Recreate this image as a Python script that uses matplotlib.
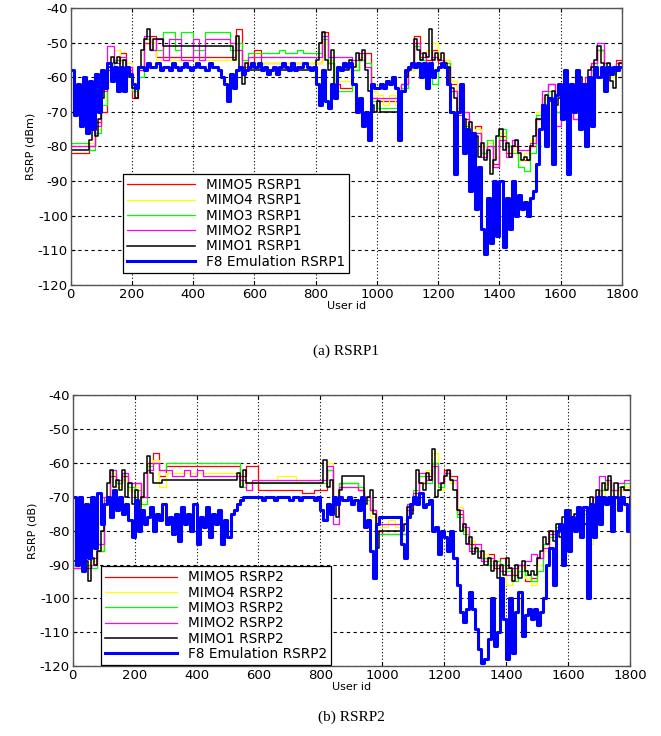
import numpy as np
import matplotlib
matplotlib.use("Agg")
import matplotlib.pyplot as plt

# ---- data (user id step 10 for F8 / MIMO1, step 20 for the others) ----
# (a) RSRP1
f8_rsrp1 = [
    -58, -71, -62, -74, -60, -76, -61, -75, -59, -70,
    -58, -63, -56, -61, -57, -64, -57, -64, -57, -59,
    -62, -63, -57, -57, -58, -56, -57, -57, -56, -58,
    -57, -57, -58, -56, -57, -58, -57, -56, -57, -58,
    -57, -56, -57, -57, -58, -56, -57, -57, -58, -60,
    -62, -67, -59, -63, -58, -57, -59, -58, -57, -56,
    -57, -56, -58, -57, -59, -58, -57, -59, -57, -56,
    -57, -58, -56, -58, -57, -57, -56, -57, -58, -57,
    -62, -68, -58, -67, -69, -62, -66, -57, -58, -56,
    -57, -56, -62, -70, -66, -74, -70, -78, -62, -63,
    -63, -62, -63, -61, -62, -60, -63, -78, -64, -58,
    -57, -56, -57, -56, -60, -56, -63, -56, -60, -58,
    -57, -56, -57, -62, -70, -88, -70, -62, -82, -75,
    -93, -76, -98, -86, -104, -111, -95, -108, -90, -106,
    -90, -109, -95, -104, -90, -100, -94, -98, -96, -100,
    -95, -93, -85, -75, -68, -80, -66, -85, -65, -62,
    -72, -58, -88, -62, -70, -58, -75, -62, -80, -60,
    -74, -57, -60, -57, -64, -57, -59, -57, -58, -57,
    -57,
]
mimo1_rsrp1 = [
    -81, -81, -81, -81, -81, -81, -78, -75, -77, -72,
    -66, -62, -57, -54, -56, -54, -57, -55, -58, -60,
    -63, -66, -57, -52, -49, -46, -52, -49, -49, -49,
    -51, -51, -51, -51, -51, -51, -51, -51, -51, -51,
    -51, -51, -51, -51, -51, -51, -51, -51, -51, -51,
    -51, -51, -51, -55, -48, -58, -62, -56, -58, -58,
    -58, -58, -58, -58, -58, -58, -58, -58, -58, -58,
    -58, -58, -58, -58, -58, -58, -58, -58, -58, -58,
    -55, -50, -47, -55, -58, -52, -64, -58, -58, -58,
    -58, -55, -57, -53, -55, -52, -58, -64, -68, -70,
    -67, -70, -70, -70, -70, -70, -70, -66, -64, -60,
    -58, -57, -49, -52, -55, -53, -54, -46, -55, -53,
    -55, -53, -56, -57, -63, -66, -70, -68, -72, -75,
    -73, -80, -77, -83, -79, -84, -81, -88, -84, -77,
    -75, -81, -79, -83, -80, -78, -82, -84, -83, -84,
    -80, -77, -72, -72, -68, -65, -67, -64, -68, -66,
    -70, -64, -67, -62, -66, -63, -60, -64, -62, -58,
    -57, -55, -51, -56, -59, -56, -61, -63, -57, -56,
    -56,
]
mimo5_rsrp1 = [
    -82, -82, -82, -80, -73, -70, -58, -55, -53, -58,
    -66, -58, -50, -48, -54, -54, -54, -54, -54, -54,
    -54, -54, -54, -54, -54, -54, -54, -46, -58, -56,
    -52, -56, -56, -56, -56, -56, -56, -56, -56, -56,
    -56, -47, -56, -62, -63, -63, -58, -55, -53, -66,
    -67, -67, -67, -67, -62, -58, -48, -54, -55, -52,
    -56, -55, -62, -70, -72, -78, -74, -82, -80, -85,
    -77, -82, -80, -84, -84, -80, -72, -66, -62, -70,
    -66, -64, -72, -68, -62, -56, -52, -58, -58, -55,
    -55,
]
mimo4_rsrp1 = [
    -80, -80, -80, -79, -75, -66, -56, -52, -55, -56,
    -62, -57, -49, -50, -55, -55, -55, -55, -55, -55,
    -55, -55, -55, -55, -55, -55, -55, -50, -55, -56,
    -56, -56, -56, -56, -56, -56, -56, -56, -56, -56,
    -56, -50, -55, -61, -61, -61, -57, -54, -56, -64,
    -65, -68, -65, -68, -63, -58, -51, -53, -52, -50,
    -54, -55, -61, -68, -73, -76, -75, -80, -79, -83,
    -76, -80, -81, -84, -82, -78, -70, -66, -64, -68,
    -67, -66, -70, -66, -64, -57, -52, -56, -60, -56,
    -56,
]
mimo3_rsrp1 = [
    -79, -79, -79, -81, -76, -68, -57, -55, -55, -60,
    -64, -60, -49, -52, -52, -47, -47, -52, -47, -47,
    -52, -52, -47, -47, -47, -47, -52, -50, -55, -53,
    -53, -53, -53, -53, -52, -53, -53, -52, -53, -53,
    -53, -49, -56, -64, -64, -64, -58, -55, -56, -67,
    -69, -69, -69, -69, -63, -57, -51, -55, -58, -62,
    -57, -56, -64, -69, -74, -77, -76, -82, -78, -86,
    -75, -80, -82, -86, -87, -82, -71, -68, -64, -70,
    -65, -66, -68, -64, -62, -58, -52, -57, -59, -57,
    -57,
]
mimo2_rsrp1 = [
    -80, -80, -80, -80, -74, -64, -51, -56, -54, -57,
    -63, -57, -48, -52, -49, -55, -49, -49, -55, -55,
    -49, -55, -49, -49, -49, -49, -50, -52, -57, -54,
    -54, -54, -54, -54, -54, -54, -54, -54, -54, -54,
    -54, -48, -54, -54, -54, -54, -55, -53, -57, -66,
    -66, -66, -66, -66, -62, -57, -50, -53, -56, -54,
    -55, -57, -64, -71, -70, -80, -76, -83, -80, -86,
    -78, -83, -78, -81, -81, -79, -72, -64, -62, -74,
    -67, -62, -72, -62, -60, -56, -50, -56, -58, -56,
    -60,
]

# (b) RSRP2
f8_rsrp2 = [
    -70, -90, -70, -92, -72, -88, -70, -85, -69, -78,
    -72, -70, -76, -68, -74, -70, -75, -72, -77, -82,
    -71, -80, -74, -78, -76, -73, -80, -75, -77, -72,
    -78, -76, -81, -75, -83, -73, -78, -75, -80, -72,
    -84, -76, -79, -73, -82, -75, -78, -74, -84, -77,
    -82, -75, -74, -72, -71, -70, -70, -70, -70, -70,
    -70, -71, -70, -70, -70, -71, -70, -70, -70, -70,
    -71, -70, -70, -71, -70, -70, -70, -70, -71, -70,
    -74, -77, -72, -75, -70, -72, -70, -71, -71, -70,
    -72, -71, -74, -70, -79, -77, -86, -94, -78, -76,
    -76, -76, -76, -76, -76, -76, -84, -88, -76, -72,
    -70, -72, -69, -73, -72, -71, -80, -79, -87, -80,
    -82, -86, -80, -88, -96, -104, -107, -103, -98, -103,
    -109, -115, -119, -118, -112, -100, -114, -110, -94, -106,
    -118, -100, -116, -104, -98, -111, -105, -103, -106, -103,
    -108, -104, -100, -90, -85, -96, -80, -78, -90, -74,
    -86, -76, -80, -73, -82, -73, -100, -72, -82, -70,
    -78, -70, -72, -70, -80, -70, -74, -70, -72, -80,
    -70,
]
mimo1_rsrp2 = [
    -89, -89, -89, -89, -89, -95, -88, -90, -86, -80,
    -72, -66, -62, -67, -65, -68, -62, -70, -66, -72,
    -68, -75, -70, -63, -58, -63, -66, -66, -66, -65,
    -65, -65, -65, -65, -65, -65, -65, -65, -65, -65,
    -65, -65, -65, -65, -65, -65, -65, -65, -65, -65,
    -65, -65, -65, -63, -67, -62, -66, -66, -66, -66,
    -66, -66, -66, -66, -66, -66, -66, -66, -66, -66,
    -66, -66, -66, -66, -66, -66, -66, -66, -66, -66,
    -66, -59, -67, -65, -70, -76, -68, -64, -64, -64,
    -64, -64, -64, -64, -72, -70, -68, -75, -85, -80,
    -80, -80, -80, -80, -80, -80, -80, -78, -73, -75,
    -72, -62, -66, -68, -63, -65, -56, -70, -68, -66,
    -64, -62, -65, -68, -74, -80, -78, -84, -82, -87,
    -85, -88, -86, -90, -88, -92, -89, -94, -90, -93,
    -88, -91, -95, -90, -94, -89, -92, -93, -92, -93,
    -88, -86, -82, -84, -80, -83, -78, -82, -76, -80,
    -74, -78, -75, -80, -74, -78, -76, -70, -74, -68,
    -70, -66, -68, -64, -70, -66, -72, -67, -68, -68,
    -68,
]
mimo5_rsrp2 = [
    -91, -91, -91, -88, -86, -72, -64, -66, -64, -68,
    -66, -70, -60, -57, -64, -61, -61, -61, -61, -61,
    -61, -61, -61, -61, -61, -61, -61, -64, -61, -61,
    -68, -68, -68, -68, -68, -68, -68, -69, -69, -68,
    -68, -62, -72, -66, -66, -66, -68, -70, -74, -80,
    -81, -81, -81, -81, -74, -70, -66, -64, -60, -66,
    -62, -64, -75, -80, -84, -86, -88, -87, -91, -88,
    -91, -93, -90, -95, -94, -88, -84, -80, -80, -78,
    -76, -78, -74, -82, -72, -68, -66, -70, -68, -68,
    -68,
]
mimo4_rsrp2 = [
    -90, -90, -90, -89, -85, -70, -63, -67, -65, -68,
    -67, -72, -62, -59, -67, -63, -63, -63, -63, -63,
    -63, -63, -63, -63, -63, -63, -63, -66, -68, -65,
    -65, -65, -65, -64, -64, -64, -66, -65, -65, -65,
    -65, -60, -70, -67, -67, -67, -68, -72, -76, -79,
    -79, -77, -79, -77, -73, -70, -64, -62, -57, -68,
    -64, -66, -73, -80, -83, -85, -87, -89, -90, -92,
    -96, -92, -90, -94, -96, -90, -86, -82, -80, -84,
    -78, -80, -76, -84, -74, -70, -66, -72, -68, -67,
    -67,
]
mimo3_rsrp2 = [
    -90, -90, -90, -91, -86, -71, -62, -66, -63, -67,
    -68, -72, -61, -60, -62, -60, -60, -60, -60, -60,
    -60, -60, -60, -60, -60, -60, -60, -67, -66, -66,
    -66, -66, -66, -66, -66, -66, -66, -66, -66, -66,
    -66, -62, -70, -66, -66, -66, -67, -71, -74, -81,
    -81, -81, -81, -81, -72, -68, -64, -66, -60, -67,
    -63, -65, -76, -81, -85, -86, -88, -90, -89, -90,
    -92, -95, -92, -93, -95, -92, -84, -82, -79, -80,
    -77, -76, -75, -80, -72, -68, -65, -68, -67, -66,
    -66,
]
mimo2_rsrp2 = [
    -91, -91, -91, -90, -84, -70, -62, -65, -63, -66,
    -66, -70, -62, -60, -62, -62, -64, -64, -62, -64,
    -62, -64, -64, -64, -64, -64, -64, -65, -68, -65,
    -65, -65, -65, -65, -65, -65, -65, -65, -65, -65,
    -65, -61, -78, -67, -67, -67, -68, -70, -74, -78,
    -78, -78, -78, -78, -72, -69, -63, -65, -61, -66,
    -63, -65, -74, -79, -86, -84, -89, -88, -90, -92,
    -93, -91, -90, -89, -87, -88, -85, -81, -80, -82,
    -77, -75, -78, -78, -70, -64, -65, -68, -66, -65,
    -65,
]

panels = [
    dict(f8=f8_rsrp1, m1=mimo1_rsrp1, m2=mimo2_rsrp1, m3=mimo3_rsrp1,
         m4=mimo4_rsrp1, m5=mimo5_rsrp1, tag="RSRP1", ylabel="RSRP (dBm)",
         caption="(a) RSRP1", cap_y=-0.24, rect=[0.107, 0.613, 0.834, 0.376],
         leg=(0.094, 0.043), hlen=5.0),
    dict(f8=f8_rsrp2, m1=mimo1_rsrp2, m2=mimo2_rsrp2, m3=mimo3_rsrp2,
         m4=mimo4_rsrp2, m5=mimo5_rsrp2, tag="RSRP2", ylabel="RSRP (dB)",
         caption="(b) RSRP2", cap_y=-0.19, rect=[0.110, 0.095, 0.843, 0.368],
         leg=(0.05, 0.003), hlen=5.3),
]

plt.rcParams["font.family"] = ["DejaVu Sans"]
plt.rcParams["axes.unicode_minus"] = False
fig = plt.figure(figsize=(6.61, 7.36), dpi=100)

for p in panels:
    ax = fig.add_axes(p["rect"])
    x10 = np.arange(len(p["f8"])) * 10
    x20 = np.arange(len(p["m5"])) * 20
    ax.plot(x20, p["m5"], color="#ff0000", lw=0.9, drawstyle="steps-post", label="MIMO5 " + p["tag"])
    ax.plot(x20, p["m4"], color="#ffff00", lw=0.9, drawstyle="steps-post", label="MIMO4 " + p["tag"])
    ax.plot(x20, p["m3"], color="#00ff00", lw=0.9, drawstyle="steps-post", label="MIMO3 " + p["tag"])
    ax.plot(x20, p["m2"], color="#ff00ff", lw=0.9, drawstyle="steps-post", label="MIMO2 " + p["tag"])
    ax.plot(x10, p["m1"], color="#000000", lw=1.1, drawstyle="steps-post", label="MIMO1 " + p["tag"])
    ax.plot(x10, p["f8"], color="#0000ff", lw=2.2, drawstyle="steps-post", label="F8 Emulation " + p["tag"])

    ax.set_xlim(0, 1800)
    ax.set_ylim(-120, -40)
    ax.set_xticks(np.arange(0, 1801, 200))
    ax.set_yticks(np.arange(-120, -39, 10))
    ax.xaxis.grid(True, color="black", linestyle=(0, (1, 2)), lw=0.8)
    ax.yaxis.grid(True, color="black", linestyle=(0, (3, 3)), lw=0.8)
    ax.tick_params(direction="in", top=True, right=True, labelsize=9.5, length=3, pad=2)
    for s in ax.spines.values():
        s.set_color("#555555")
        s.set_linewidth(1.0)
    ax.set_xlabel("User id", fontsize=8, labelpad=0)
    ax.set_ylabel(p["ylabel"], fontsize=8, labelpad=2)

    leg = ax.legend(loc="lower left", bbox_to_anchor=p["leg"], borderaxespad=0,
                    fontsize=9.8, handlelength=p["hlen"], labelspacing=0.1,
                    borderpad=0.3, fancybox=False, framealpha=1, edgecolor="black")
    leg.get_frame().set_linewidth(0.9)

    ax.text(0.5, p["cap_y"], p["caption"], transform=ax.transAxes,
            ha="center", va="center", fontsize=11, family=["Liberation Serif"])

fig.savefig("out.png", dpi=100)
